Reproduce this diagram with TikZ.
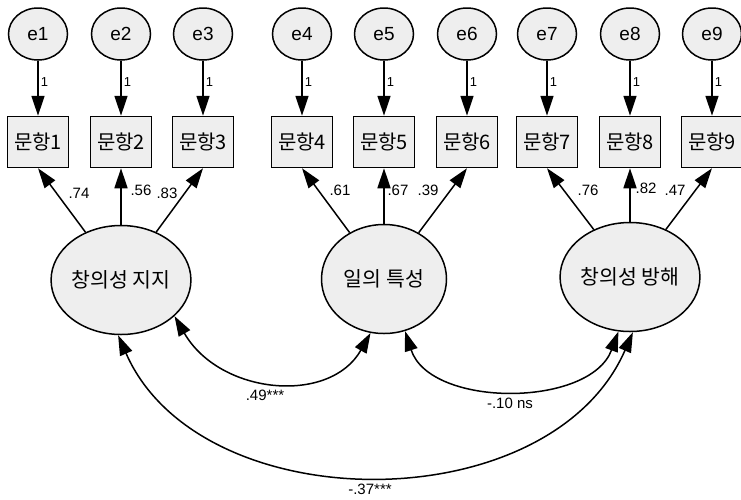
\documentclass[tikz,border=0pt]{standalone}
\usepackage{fontspec}
\setmainfont{Liberation Sans}
\newfontfamily\kr{Noto Sans CJK KR}
\usetikzlibrary{shapes.geometric,arrows.meta}
\tikzset{
 base/.style={draw, line width=1.5pt, fill=gray!13, inner sep=0pt},
 err/.style={base, ellipse, minimum width=59pt, minimum height=52pt, font=\fontsize{19}{19}\selectfont},
 obs/.style={base, rectangle, minimum width=61pt, minimum height=51pt, font=\kr\fontsize{20}{20}\selectfont},
 lat/.style={base, ellipse, minimum width=125pt, minimum height=109pt, font=\kr\fontsize{20.5}{20.5}\selectfont},
 arr/.style={line width=1.5pt, -{Triangle[length=20pt,width=13pt]}},
 cov/.style={line width=1.5pt, {Triangle[length=20pt,width=13pt]}-{Triangle[length=20pt,width=13pt]}},
 lab/.style={font=\fontsize{15}{15}\selectfont, inner sep=1pt},
 one/.style={font=\fontsize{13}{13}\selectfont, inner sep=2pt, right},
}
\begin{document}
\begin{tikzpicture}[x=1pt,y=-1pt]
\useasboundingbox (0,0) rectangle (741,499);
% error terms and indicators
\foreach \n/\x in {1/38,2/121,3/203,4/302,5/384,6/467,7/547,8/630,9/712}{
  \node[err] (e\n) at (\x,34) {e\n};
  \node[obs] (b\n) at (\x,142) {문항\n};
  \draw[arr] (e\n) -- node[one, pos=0.38] {1} (b\n);
}
% latent
\node[lat] (f1) at (121,280) {창의성 지지};
\node[lat] (f2) at (384,279) {일의 특성};
\node[lat] (f3) at (630,277) {창의성 방해};
% loadings
\foreach \f/\a/\b/\c in {f1/1/2/3, f2/4/5/6, f3/7/8/9}{
  \draw[arr] (\f) -- (b\a.south);
  \draw[arr] (\f) -- (b\b.south);
  \draw[arr] (\f) -- (b\c.south);
}
\node[lab] (l1) at (79,193) {.74};
\node[lab] (l2) at (141,190) {.56};
\node[lab] (l3) at (167,193) {.83};
\node[lab] (l4) at (340,190) {.61};
\node[lab] (l5) at (398,190) {.67};
\node[lab] (l6) at (428,190) {.39};
\node[lab] (l7) at (588,190) {.76};
\node[lab] (l8) at (646,188) {.82};
\node[lab] (l9) at (675,190) {.47};
% covariances
\draw[cov] (f1.-34) .. controls (220,395) and (330,405) .. (f2.-104);
\draw[cov] (f2.-68) .. controls (430,408) and (590,408) .. (f3.-102);
\draw[cov] (f1.-93) .. controls (200,522) and (550,522) .. (f3.-87);
\node[lab] (c1) at (265,395) {.49***};
\node[lab] (c2) at (510,403) {-.10 ns};
\node[lab] (c3) at (370,489) {-.37***};
\end{tikzpicture}
\end{document}
